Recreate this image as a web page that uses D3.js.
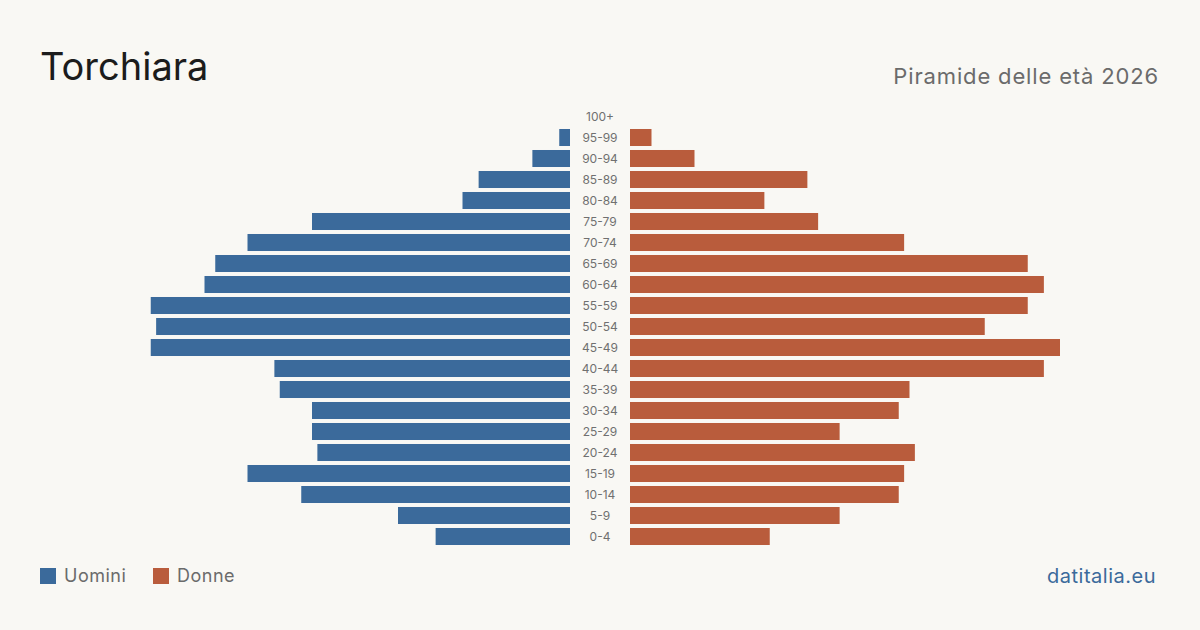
<!DOCTYPE html>
<meta charset="utf-8">
<title>Torchiara</title>
<style>
  body { margin: 0; background: #f9f8f4; }
  svg { display: block; font-family: Inter, "Liberation Sans", sans-serif; }
</style>
<svg width="1200" height="630"></svg>
<script src="https://d3js.org/d3.v7.min.js"></script>
<script>

// age groups, top to bottom
var ages = ["100+", "95-99", "90-94", "85-89", "80-84", "75-79", "70-74", "65-69", "60-64",
            "55-59", "50-54", "45-49", "40-44", "35-39", "30-34", "25-29", "20-24",
            "15-19", "10-14", "5-9", "0-4"];
var uomini = [0, 2, 7, 17, 20, 48, 60, 66, 68, 78, 77, 78, 55, 54, 48, 48, 47, 60, 50, 32, 25];
var donne  = [0, 4, 12, 33, 25, 35, 51, 74, 77, 74, 66, 80, 77, 52, 50, 39, 53, 51, 50, 39, 26];

var blue = "#3b6a9b",
    red = "#b95c3c";

var svg = d3.select("svg"),
    width = 1200,
    height = 630;

var y = d3.scaleBand()
    .domain(ages)
    .range([106, 547])
    .paddingInner(0.19)
    .paddingOuter(0.095);

var xL = d3.scaleLinear().domain([0, 80]).range([570, 140]);
var xR = d3.scaleLinear().domain([0, 80]).range([630, 1060]);

// title
svg.append("text")
    .attr("x", 40).attr("y", 80)
    .attr("font-size", 38)
    .attr("fill", "#1c1c1c")
    .text("Torchiara");

svg.append("text")
    .attr("x", 1159).attr("y", 84)
    .attr("text-anchor", "end")
    .attr("font-size", 22)
    .attr("letter-spacing", "0.85")
    .attr("fill", "#6b6b6b")
    .text("Piramide delle età 2026");

// bars
svg.append("g")
  .selectAll("rect")
  .data(uomini)
  .enter().append("rect")
    .attr("x", function(d) { return xL(d); })
    .attr("y", function(d, i) { return y(ages[i]); })
    .attr("width", function(d) { return xL(0) - xL(d); })
    .attr("height", y.bandwidth())
    .attr("fill", blue);

svg.append("g")
  .selectAll("rect")
  .data(donne)
  .enter().append("rect")
    .attr("x", xR(0))
    .attr("y", function(d, i) { return y(ages[i]); })
    .attr("width", function(d) { return xR(d) - xR(0); })
    .attr("height", y.bandwidth())
    .attr("fill", red);

// age labels
svg.append("g")
  .selectAll("text")
  .data(ages)
  .enter().append("text")
    .attr("x", 600)
    .attr("y", function(d) { return y(d) + y.bandwidth() / 2; })
    .attr("dy", "0.35em")
    .attr("text-anchor", "middle")
    .attr("font-size", 12)
    .attr("fill", "#707070")
    .text(function(d) { return d; });

// legend
var legend = [{name: "Uomini", color: blue, x: 40}, {name: "Donne", color: red, x: 153}];
var lg = svg.append("g").selectAll("g")
    .data(legend)
    .enter().append("g")
    .attr("transform", function(d) { return "translate(" + d.x + ",568)"; });
lg.append("rect")
    .attr("width", 16).attr("height", 16)
    .attr("fill", function(d) { return d.color; });
lg.append("text")
    .attr("x", 24).attr("y", 8)
    .attr("dy", "0.35em")
    .attr("font-size", 18)
    .attr("letter-spacing", "0.5")
    .attr("fill", "#6b6b6b")
    .text(function(d) { return d.name; });

svg.append("text")
    .attr("x", 1156).attr("y", 583)
    .attr("text-anchor", "end")
    .attr("font-size", 20)
    .attr("letter-spacing", "0.5")
    .attr("fill", "#3b6a9b")
    .text("datitalia.eu");

</script>
